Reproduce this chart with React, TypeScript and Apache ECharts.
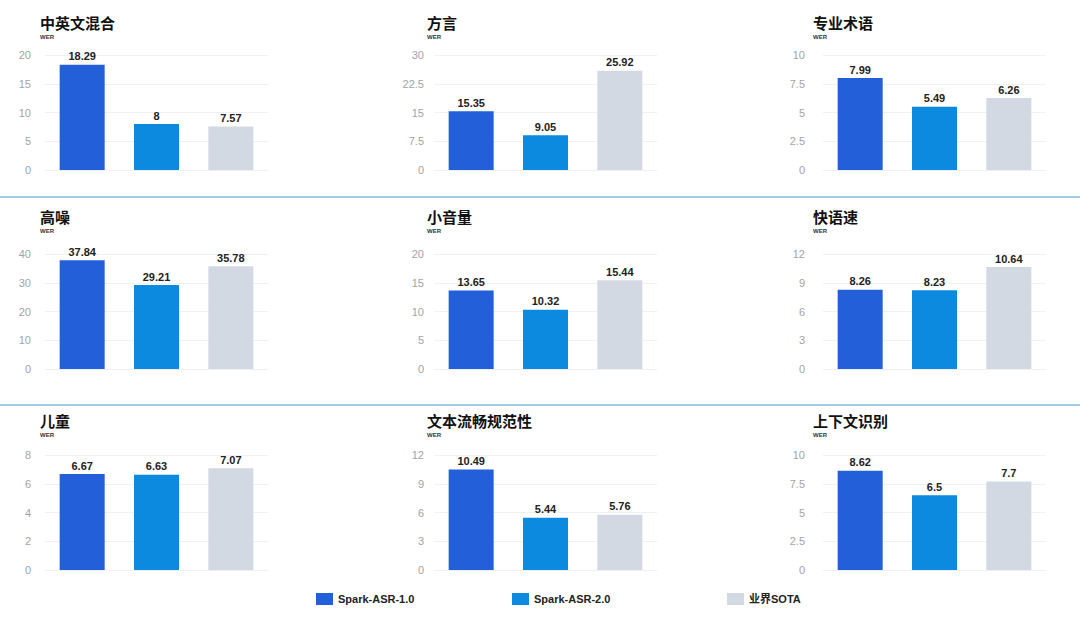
import React, { useEffect, useRef } from 'react';
import * as echarts from 'echarts';

const systems = ['Spark-ASR-1.0', 'Spark-ASR-2.0', '业界SOTA'];
const scenarios = ['中英文混合', '方言', '专业术语', '高噪', '小音量', '快语速', '儿童', '文本流畅规范性', '上下文识别'];
const spark1 = [18.29, 15.35, 7.99, 37.84, 13.65, 8.26, 6.67, 10.49, 8.62];
const spark2 = [8, 9.05, 5.49, 29.21, 10.32, 8.23, 6.63, 5.44, 6.5];
const sota = [7.57, 25.92, 6.26, 35.78, 15.44, 10.64, 7.07, 5.76, 7.7];
const axisMax = [20, 30, 10, 40, 20, 12, 8, 12, 10];
const axisStep = [5, 7.5, 2.5, 10, 5, 3, 2, 3, 2.5];

const colors = ['#235fd8', '#0c8ae0', '#d3d9e3'];
const FONT = '"Liberation Sans", "Noto Sans CJK SC", sans-serif';

// panel layout (3 x 3)
const colLeft = [45, 434, 823];
const labelMargin = [14, 10, 18];
const titleLeft = [40, 427, 813];
const rowTop = [55, 254, 455];
const titleTop = [16, 210, 414];
const gridW = 223;
const gridH = 115;
const legendLeft = [316, 512, 727];

const App: React.FC = () => {
  const chartRef = useRef<HTMLDivElement>(null);

  useEffect(() => {
    document.body.style.margin = '0';
    if (!chartRef.current) return;
    const chart = echarts.init(chartRef.current, undefined, { renderer: 'svg' });
    const values = [spark1, spark2, sota];

    const grid: any[] = [];
    const xAxis: any[] = [];
    const yAxis: any[] = [];
    const title: any[] = [];
    const series: any[] = [];

    scenarios.forEach((name, i) => {
      const r = Math.floor(i / 3);
      const c = i % 3;
      grid.push({ left: colLeft[c], top: rowTop[r], width: gridW, height: gridH });
      xAxis.push({
        type: 'category',
        gridIndex: i,
        data: systems,
        axisLine: { show: false },
        axisTick: { show: false },
        axisLabel: { show: false }
      });
      yAxis.push({
        type: 'value',
        gridIndex: i,
        min: 0,
        max: axisMax[i],
        interval: axisStep[i],
        axisLine: { show: false },
        axisTick: { show: false },
        axisLabel: { color: '#a3a3a3', fontSize: 11, margin: labelMargin[c], fontFamily: FONT },
        splitLine: { lineStyle: { color: '#eef0f4', width: 1 } }
      });
      title.push({
        text: name,
        subtext: 'WER',
        left: titleLeft[c],
        top: titleTop[r],
        padding: 0,
        itemGap: 3,
        textStyle: { fontSize: 15, fontWeight: 'bold', color: '#111', fontFamily: FONT },
        subtextStyle: { fontSize: 6, fontWeight: 'bold', color: '#333', fontFamily: FONT }
      });
      systems.forEach((sys, s) => {
        series.push({
          type: 'bar',
          name: sys,
          xAxisIndex: i,
          yAxisIndex: i,
          stack: 'p' + i,
          barWidth: 45,
          itemStyle: { color: colors[s] },
          label: {
            show: true,
            position: 'top',
            distance: 3,
            fontSize: 11,
            fontWeight: 'bold',
            color: '#222',
            fontFamily: FONT
          },
          data: systems.map((_, k) => (k === s ? values[s][i] : '-'))
        });
      });
    });

    chart.setOption({
      animation: false,
      textStyle: { fontFamily: FONT },
      title,
      grid,
      xAxis,
      yAxis,
      series,
      legend: systems.map((sys, k) => ({
        data: [sys],
        left: legendLeft[k],
        top: 593,
        padding: 0,
        icon: 'rect',
        itemWidth: 17,
        itemHeight: 12,
        textStyle: { fontSize: 11, fontWeight: 'bold', color: '#222', fontFamily: FONT }
      })),
      graphic: [197, 405].map((y) => ({
        type: 'line',
        shape: { x1: 0, y1: y, x2: 1080, y2: y },
        style: { stroke: '#84bad3', lineWidth: 1.5 }
      }))
    });

    return () => {
      chart.dispose();
    };
  }, []);

  return <div ref={chartRef} style={{ width: 1080, height: 620, background: '#fff' }} />;
};

export default App;
